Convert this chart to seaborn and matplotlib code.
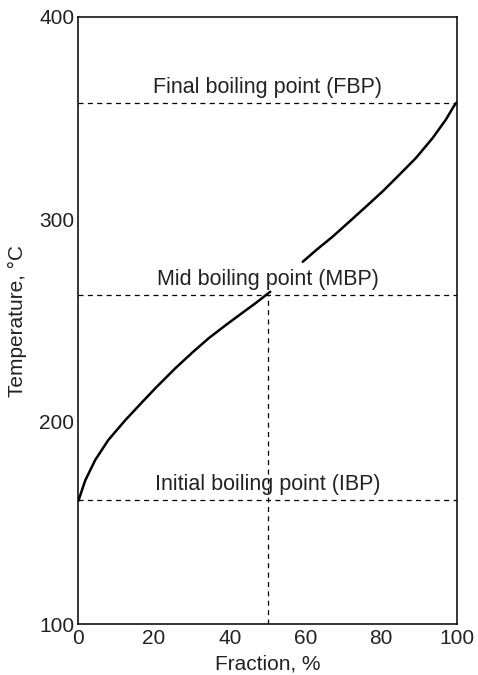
import numpy as np
import pandas as pd
import seaborn as sns
import matplotlib.pyplot as plt

# distillation curve (two pieces, gap near the MBP label)
frac_low = [0, 1.8, 4.4, 7.9, 12.3, 16.8, 20.3, 25.6, 30, 34.4, 39, 43.2, 47, 50.7]
temp_low = [161, 171, 181, 191, 200.6, 209.6, 216.5, 226.4, 234, 241.2, 247.8, 253.6, 258.8, 264.2]
frac_high = [59.3, 63, 67.2, 71.5, 76.0, 80.5, 84.8, 89.2, 93.6, 97.1, 99.3, 100]
temp_high = [279.0, 285, 291.4, 298.6, 306.2, 313.9, 321.9, 330.2, 340.0, 349.1, 356.0, 357.6]

points = ["Initial boiling point (IBP)", "Mid boiling point (MBP)", "Final boiling point (FBP)"]
point_temps = [161.5, 262.5, 357.5]
mid_frac = 50

sns.set_theme(style="white")
plt.rcParams["font.family"] = ["Liberation Sans", "DejaVu Sans"]

fig = plt.figure(figsize=(4.78, 6.75), dpi=100)
ax = fig.add_axes([0.164, 0.075, 0.7915, 0.9003])

low = pd.DataFrame({"frac": frac_low, "temp": temp_low})
high = pd.DataFrame({"frac": frac_high, "temp": temp_high})
sns.lineplot(data=low, x="frac", y="temp", ax=ax, color="black", lw=1.8, sort=False)
sns.lineplot(data=high, x="frac", y="temp", ax=ax, color="black", lw=1.8, sort=False)

for label, t in zip(points, point_temps):
    ax.axhline(t, color="black", lw=0.9, ls=(0, (4, 3.5)))
    ax.text(50, t + 2.5, label, ha="center", va="bottom", fontsize=15.5, color="#222222")

ax.plot([mid_frac, mid_frac], [100, point_temps[1]], color="black", lw=0.9, ls=(0, (4, 3.5)))

ax.set_xlim(0, 100)
ax.set_ylim(100, 400)
ax.set_xticks(range(0, 101, 20))
ax.set_yticks([100, 200, 300, 400])
ax.tick_params(length=0, labelsize=15, colors="#222222", pad=3)
ax.set_xlabel("Fraction, %", fontsize=15, color="#222222", labelpad=5)
ax.set_ylabel("Temperature, °C", fontsize=15, color="#222222", labelpad=9)
for s in ax.spines.values():
    s.set_color("black")
    s.set_linewidth(1.1)

fig.savefig("out.png", dpi=100)
